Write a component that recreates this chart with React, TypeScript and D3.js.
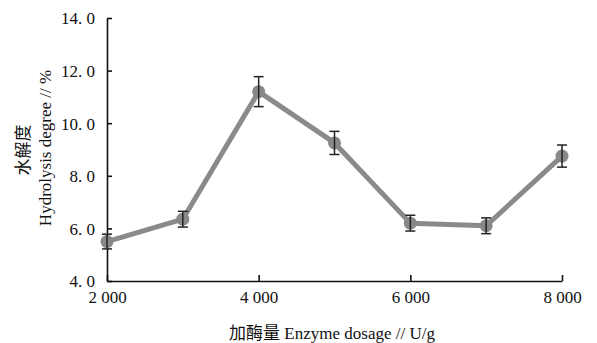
import React, { useEffect, useRef } from 'react';
import * as d3 from 'd3';

// enzyme dosage (U/g) and hydrolysis degree (%)
const dosages = [2000, 3000, 4000, 5000, 6000, 7000, 8000];
const degrees = [5.5, 6.35, 11.2, 9.25, 6.2, 6.1, 8.75];
const errors = [0.28, 0.3, 0.57, 0.44, 0.3, 0.3, 0.42];

const xTicks = [2000, 4000, 6000, 8000];
const yTicks = [4, 6, 8, 10, 12, 14];

const xTitle = '加酶量 Enzyme dosage // U/g';
const yTitleCn = '水解度';
const yTitleEn = 'Hydrolysis degree // %';

const W = 597, H = 343;
const font = '"Liberation Serif", "Noto Sans CJK SC", serif';

const App = () => {
  const ref = useRef<SVGSVGElement>(null);

  useEffect(() => {
    const svg = d3.select(ref.current);
    svg.selectAll('*').remove();

    const x = d3.scaleLinear().domain([2000, 8000]).range([107, 562]);
    const y = d3.scaleLinear().domain([4, 14]).range([281, 18]);

    // axes
    const yAxis = svg.append('g').attr('transform', 'translate(107,0)')
      .call(d3.axisLeft(y).tickValues(yTicks).tickSizeInner(-5).tickSizeOuter(0)
        .tickPadding(12).tickFormat(d => (+d).toFixed(1).replace('.', '. ')));
    const xAxis = svg.append('g').attr('transform', 'translate(0,281)')
      .call(d3.axisBottom(x).tickValues(xTicks).tickSizeInner(-6).tickSizeOuter(0)
        .tickPadding(12).tickFormat(d => String(+d / 1000) + ' 000'));

    [yAxis, xAxis].forEach(g => {
      g.select('.domain').attr('stroke', '#111').attr('stroke-width', 1.6);
      g.selectAll('.tick line').attr('stroke', '#111').attr('stroke-width', 1.6);
      g.selectAll('.tick text').attr('fill', '#111').attr('font-family', font).attr('font-size', 17);
    });
    yAxis.selectAll('.tick text').attr('dy', '0.35em');
    xAxis.selectAll('.tick text').attr('dy', '0.6em');

    // line
    const line = d3.line<number>().x((d, i) => x(dosages[i])).y(d => y(d));
    svg.append('path').datum(degrees)
      .attr('d', line)
      .attr('fill', 'none')
      .attr('stroke', '#8a8a8a')
      .attr('stroke-width', 5)
      .attr('stroke-linejoin', 'round');

    svg.selectAll('.dot').data(degrees).enter().append('circle')
      .attr('class', 'dot')
      .attr('cx', (d, i) => x(dosages[i]))
      .attr('cy', d => y(d))
      .attr('r', 6.5)
      .attr('fill', '#888');

    // error bars
    const eb = svg.selectAll('.err').data(degrees).enter().append('g').attr('class', 'err')
      .attr('stroke', '#222').attr('stroke-width', 1.5);
    eb.append('line')
      .attr('x1', (d, i) => x(dosages[i])).attr('x2', (d, i) => x(dosages[i]))
      .attr('y1', (d, i) => y(d + errors[i])).attr('y2', (d, i) => y(d - errors[i]));
    eb.append('line')
      .attr('x1', (d, i) => x(dosages[i]) - 5).attr('x2', (d, i) => x(dosages[i]) + 5)
      .attr('y1', (d, i) => y(d + errors[i])).attr('y2', (d, i) => y(d + errors[i]));
    eb.append('line')
      .attr('x1', (d, i) => x(dosages[i]) - 5).attr('x2', (d, i) => x(dosages[i]) + 5)
      .attr('y1', (d, i) => y(d - errors[i])).attr('y2', (d, i) => y(d - errors[i]));

    // titles
    svg.append('text').attr('x', 332).attr('y', 339).attr('text-anchor', 'middle')
      .attr('font-family', font).attr('font-size', 17).attr('fill', '#111').text(xTitle);
    svg.append('text').attr('transform', 'translate(29,150) rotate(-90)').attr('text-anchor', 'middle')
      .attr('font-family', font).attr('font-size', 17).attr('fill', '#111').text(yTitleCn);
    svg.append('text').attr('transform', 'translate(51,148) rotate(-90)').attr('text-anchor', 'middle')
      .attr('font-family', font).attr('font-size', 17).attr('fill', '#111').text(yTitleEn);
  }, []);

  return (
    <svg ref={ref} width={W} height={H}
      style={{ position: 'absolute', left: 0, top: 0, background: '#fff' }} />
  );
};

export default App;
